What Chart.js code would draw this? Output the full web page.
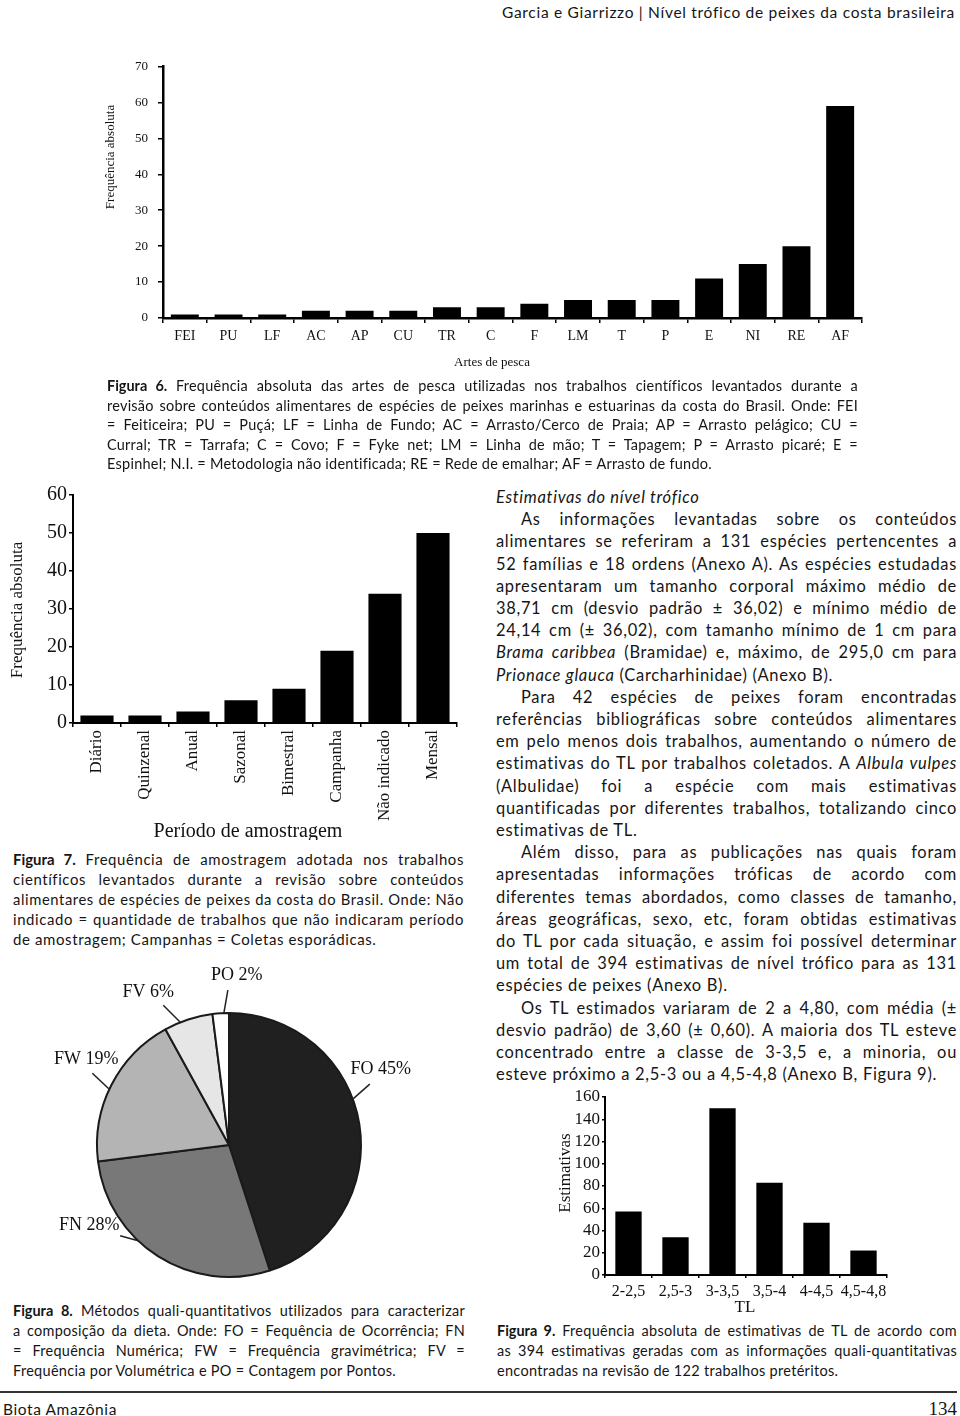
<!DOCTYPE html>
<html lang="pt-BR">
<head>
<meta charset="utf-8">
<title>Garcia e Giarrizzo - Figuras 6 a 9</title>
<script src="https://cdn.jsdelivr.net/npm/chart.js@4.4.1/dist/chart.umd.min.js"></script>
<style>
html, body { margin: 0; padding: 0; background: #fff; }
#page { position: relative; width: 960px; height: 1416px; overflow: hidden; color: #151515; font-family: Lato, 'Noto Sans', sans-serif; }
.blk { position: absolute; }
.ln { text-align: justify; text-align-last: justify; }
.ln.end { text-align: left; text-align-last: left; }
.ind { text-indent: 25px; }
canvas { position: absolute; }
b { font-weight: 700; letter-spacing: 0; }
</style>
</head>
<body>
<div id="page">

  <div class="blk" style="right:5px; top:2px; font-size:15.5px; line-height:20px; letter-spacing:0.7px;">Garcia e Giarrizzo | Nível trófico de peixes da costa brasileira</div>

  <canvas id="fig6" width="780" height="330" style="left:100px; top:50px; width:780px; height:330px;"></canvas>

  <div class="blk" style="left:107px; top:376px; width:751px; font-size:14.5px; line-height:19.5px; letter-spacing:0.25px;">
    <div class="ln"><b>Figura 6.</b> Frequência absoluta das artes de pesca utilizadas nos trabalhos científicos levantados durante a</div>
    <div class="ln">revisão sobre conteúdos alimentares de espécies de peixes marinhas e estuarinas da costa do Brasil. Onde: FEI</div>
    <div class="ln">= Feiticeira; PU = Puçá; LF = Linha de Fundo; AC = Arrasto/Cerco de Praia; AP = Arrasto pelágico; CU =</div>
    <div class="ln">Curral; TR = Tarrafa; C = Covo; F = Fyke net; LM = Linha de mão; T = Tapagem; P = Arrasto picaré; E =</div>
    <div class="ln end">Espinhel; N.I. = Metodologia não identificada; RE = Rede de emalhar; AF = Arrasto de fundo.</div>
  </div>

  <canvas id="fig7" width="470" height="360" style="left:0px; top:480px; width:470px; height:360px;"></canvas>

  <div class="blk" style="left:13px; top:849px; width:451px; font-size:15px; line-height:20px; letter-spacing:0.6px;">
    <div class="ln"><b>Figura 7.</b> Frequência de amostragem adotada nos trabalhos</div>
    <div class="ln">científicos levantados durante a revisão sobre conteúdos</div>
    <div class="ln">alimentares de espécies de peixes da costa do Brasil. Onde: Não</div>
    <div class="ln">indicado = quantidade de trabalhos que não indicaram período</div>
    <div class="ln end">de amostragem; Campanhas = Coletas esporádicas.</div>
  </div>

  <canvas id="fig8" width="470" height="320" style="left:0px; top:960px; width:470px; height:320px;"></canvas>

  <div class="blk" style="left:13px; top:1301px; width:452px; font-size:14.5px; line-height:20px; letter-spacing:0.3px;">
    <div class="ln"><b>Figura 8.</b> Métodos quali-quantitativos utilizados para caracterizar</div>
    <div class="ln">a composição da dieta. Onde: FO = Fequência de Ocorrência; FN</div>
    <div class="ln">= Frequência Numérica; FW = Frequência gravimétrica; FV =</div>
    <div class="ln end">Frequência por Volumétrica e PO = Contagem por Pontos.</div>
  </div>

  <div class="blk" style="left:496px; top:486px; width:461px; font-size:16.5px; line-height:22.2px; letter-spacing:0.7px;">
    <div class="ln end"><i>Estimativas do nível trófico</i></div>
    <div class="ln ind">As informações levantadas sobre os conteúdos</div>
    <div class="ln">alimentares se referiram a 131 espécies pertencentes a</div>
    <div class="ln">52 famílias e 18 ordens (Anexo A). As espécies estudadas</div>
    <div class="ln">apresentaram um tamanho corporal máximo médio de</div>
    <div class="ln">38,71 cm (desvio padrão ± 36,02) e mínimo médio de</div>
    <div class="ln">24,14 cm (± 36,02), com tamanho mínimo de 1 cm para</div>
    <div class="ln"><i>Brama caribbea</i> (Bramidae) e, máximo, de 295,0 cm para</div>
    <div class="ln end"><i>Prionace glauca</i> (Carcharhinidae) (Anexo B).</div>
    <div class="ln ind">Para 42 espécies de peixes foram encontradas</div>
    <div class="ln">referências bibliográficas sobre conteúdos alimentares</div>
    <div class="ln">em pelo menos dois trabalhos, aumentando o número de</div>
    <div class="ln">estimativas do TL por trabalhos coletados. A <i>Albula vulpes</i></div>
    <div class="ln">(Albulidae) foi a espécie com mais estimativas</div>
    <div class="ln">quantificadas por diferentes trabalhos, totalizando cinco</div>
    <div class="ln end">estimativas de TL.</div>
    <div class="ln ind">Além disso, para as publicações nas quais foram</div>
    <div class="ln">apresentadas informações tróficas de acordo com</div>
    <div class="ln">diferentes temas abordados, como classes de tamanho,</div>
    <div class="ln">áreas geográficas, sexo, etc, foram obtidas estimativas</div>
    <div class="ln">do TL por cada situação, e assim foi possível determinar</div>
    <div class="ln">um total de 394 estimativas de nível trófico para as 131</div>
    <div class="ln end">espécies de peixes (Anexo B).</div>
    <div class="ln ind">Os TL estimados variaram de 2 a 4,80, com média (±</div>
    <div class="ln">desvio padrão) de 3,60 (± 0,60). A maioria dos TL esteve</div>
    <div class="ln">concentrado entre a classe de 3-3,5 e, a minoria, ou</div>
    <div class="ln end">esteve próximo a 2,5-3 ou a 4,5-4,8 (Anexo B, Figura 9).</div>
  </div>

  <canvas id="fig9" width="360" height="240" style="left:540px; top:1080px; width:360px; height:240px;"></canvas>

  <div class="blk" style="left:497px; top:1321px; width:460px; font-size:14.5px; line-height:20px; letter-spacing:0.3px;">
    <div class="ln"><b>Figura 9.</b> Frequência absoluta de estimativas de TL de acordo com</div>
    <div class="ln">as 394 estimativas geradas com as informações quali-quantitativas</div>
    <div class="ln end">encontradas na revisão de 122 trabalhos pretéritos.</div>
  </div>

  <div class="blk" style="left:0px; top:1391px; width:957px; height:2px; background:#333;"></div>
  <div class="blk" style="left:3px; top:1399px; font-size:15.5px; line-height:20px; letter-spacing:0.6px;">Biota Amazônia</div>
  <div class="blk" style="right:3px; top:1398px; font-size:19px; line-height:22px; font-family:'Liberation Serif', serif;">134</div>
</div>

<script>
// Figura 6 - artes de pesca
const artesLabels = ['FEI', 'PU', 'LF', 'AC', 'AP', 'CU', 'TR', 'C', 'F', 'LM', 'T', 'P', 'E', 'NI', 'RE', 'AF'];
const artesValues = [1, 1, 1, 2, 2, 2, 3, 3, 4, 5, 5, 5, 11, 15, 20, 59];

// Figura 7 - periodo de amostragem
const periodoLabels = ['Diário', 'Quinzenal', 'Anual', 'Sazonal', 'Bimestral', 'Campanha', 'Não indicado', 'Mensal'];
const periodoValues = [2, 2, 3, 6, 9, 19, 34, 50];

// Figura 8 - metodos quali-quantitativos (%)
const metodoLabels = ['FO', 'FN', 'FW', 'FV', 'PO'];
const metodoValues = [45, 28, 19, 6, 2];

// Figura 9 - estimativas de TL
const tlLabels = ['2-2,5', '2,5-3', '3-3,5', '3,5-4', '4-4,5', '4,5-4,8'];
const tlValues = [57, 34, 150, 83, 47, 22];

const SERIF = "'Liberation Serif', 'Times New Roman', serif";

// shrink any text line that would not fit on one row
document.querySelectorAll('.ln').forEach(el => {
    const probe = document.createElement('span');
    probe.style.whiteSpace = 'nowrap';
    probe.innerHTML = el.innerHTML;
    const saved = el.innerHTML;
    el.innerHTML = '';
    el.appendChild(probe);
    const natural = probe.getBoundingClientRect().width + (el.classList.contains('ind') ? 25 : 0);
    el.innerHTML = saved;
    const avail = el.clientWidth;
    if (natural > avail - 1) {
        const fs = parseFloat(getComputedStyle(el).fontSize);
        el.style.fontSize = (fs * (avail - 2) / natural).toFixed(2) + 'px';
    }
});

// axis titles drawn at free spots of the canvas
const freeTitles = {
    id: 'freeTitles',
    afterDraw(chart, args, opts) {
        const ctx = chart.ctx;
        (opts.items || []).forEach(t => {
            ctx.save();
            ctx.translate(t.x, t.y);
            if (t.rotate) ctx.rotate(t.rotate * Math.PI / 180);
            ctx.font = t.font;
            ctx.fillStyle = '#111';
            ctx.textAlign = 'center';
            ctx.textBaseline = 'middle';
            ctx.fillText(t.text, 0, 0);
            ctx.restore();
        });
    }
};

// pie labels with short leader lines
const pieLabels = {
    id: 'pieLabels',
    afterDatasetsDraw(chart, args, opts) {
        const ctx = chart.ctx;
        const ds = chart.data.datasets[0];
        chart.getDatasetMeta(0).data.forEach((arc, i) => {
            const p = opts.items[i];
            const {x, y, startAngle, endAngle, outerRadius} = arc.getProps(['x', 'y', 'startAngle', 'endAngle', 'outerRadius'], true);
            const a = startAngle + (endAngle - startAngle) * p.at;
            const sx = x + Math.cos(a) * outerRadius;
            const sy = y + Math.sin(a) * outerRadius;
            const ex = sx + p.dx, ey = sy + p.dy;
            ctx.save();
            ctx.strokeStyle = '#222';
            ctx.lineWidth = 1.5;
            ctx.beginPath();
            ctx.moveTo(sx, sy);
            ctx.lineTo(ex, ey);
            ctx.stroke();
            ctx.font = opts.font;
            ctx.fillStyle = '#111';
            ctx.textAlign = 'center';
            ctx.textBaseline = 'middle';
            ctx.fillText(chart.data.labels[i] + ' ' + ds.data[i] + '%', ex + p.tx, ey + p.ty);
            ctx.restore();
        });
    }
};

function barChart(id, labels, values, cfg) {
    const ctx = document.getElementById(id).getContext('2d');
    return new Chart(ctx, {
        type: 'bar',
        data: {
            labels: labels,
            datasets: [{
                data: values,
                backgroundColor: '#000',
                borderWidth: 0,
                barPercentage: cfg.barPercentage,
                categoryPercentage: 1
            }]
        },
        plugins: [freeTitles],
        options: {
            responsive: false,
            maintainAspectRatio: false,
            animation: false,
            events: [],
            layout: { padding: cfg.padding },
            scales: {
                x: {
                    grid: { display: true, drawOnChartArea: false, drawTicks: true, tickLength: cfg.tickLength, color: '#000', lineWidth: 1.5, offset: true },
                    border: { display: true, color: '#000', width: cfg.axisWidth },
                    ticks: {
                        color: '#111',
                        font: { family: SERIF, size: cfg.xFont },
                        padding: cfg.xPad,
                        autoSkip: false,
                        minRotation: cfg.rotation,
                        maxRotation: cfg.rotation
                    },
                    afterFit: s => { s.height = cfg.xHeight; }
                },
                y: {
                    min: 0,
                    max: cfg.max,
                    grid: { display: true, drawOnChartArea: false, drawTicks: true, tickLength: cfg.tickLength, color: '#000', lineWidth: 1.5 },
                    border: { display: true, color: '#000', width: cfg.axisWidth },
                    ticks: {
                        stepSize: cfg.step,
                        count: cfg.max / cfg.step + 1,
                        autoSkip: false,
                        color: '#111',
                        font: { family: SERIF, size: cfg.yFont, lineHeight: 1 },
                        padding: cfg.yPad
                    },
                    afterFit: s => { s.width = cfg.yWidth; }
                }
            },
            plugins: {
                legend: { display: false },
                tooltip: { enabled: false },
                freeTitles: { items: cfg.titles }
            }
        }
    });
}

barChart('fig6', artesLabels, artesValues, {
    barPercentage: 0.64,
    padding: { top: 16, right: 18, left: 0, bottom: 0 },
    tickLength: 5, axisWidth: 2.5,
    xFont: 14, xPad: 5, rotation: 0, xHeight: 62,
    yFont: 13, yPad: 10, yWidth: 63,
    max: 70, step: 10,
    titles: [
        { text: 'Frequência absoluta', x: 11, y: 107, rotate: -90, font: '13px ' + SERIF },
        { text: 'Artes de pesca', x: 392, y: 313, font: '13px ' + SERIF }
    ]
});

barChart('fig7', periodoLabels, periodoValues, {
    barPercentage: 0.69,
    padding: { top: 15, right: 13, left: 0, bottom: 0 },
    tickLength: 4, axisWidth: 2,
    xFont: 17, xPad: 3, rotation: 90, xHeight: 117,
    yFont: 20, yPad: 2, yWidth: 73,
    max: 60, step: 10,
    titles: [
        { text: 'Frequência absoluta', x: 18, y: 130, rotate: -90, font: '17px ' + SERIF },
        { text: 'Período de amostragem', x: 248, y: 352, font: '20px ' + SERIF }
    ]
});

barChart('fig9', tlLabels, tlValues, {
    barPercentage: 0.56,
    padding: { top: 17, right: 13, left: 0, bottom: 0 },
    tickLength: 3, axisWidth: 2,
    xFont: 16, xPad: 4, rotation: 0, xHeight: 45,
    yFont: 17, yPad: 2, yWidth: 65,
    max: 160, step: 20,
    titles: [
        { text: 'Estimativas', x: 26, y: 93, rotate: -90, font: '17px ' + SERIF },
        { text: 'TL', x: 205, y: 228, font: '17px ' + SERIF }
    ]
});

// Figura 8 - pie
new Chart(document.getElementById('fig8').getContext('2d'), {
    type: 'pie',
    data: {
        labels: metodoLabels,
        datasets: [{
            data: metodoValues,
            backgroundColor: ['#202020', '#787878', '#b4b4b4', '#e6e6e6', '#ffffff'],
            borderColor: '#1a1a1a',
            borderWidth: 2
        }]
    },
    plugins: [pieLabels],
    options: {
        responsive: false,
        maintainAspectRatio: false,
        animation: false,
        events: [],
        layout: { padding: { left: 96, right: 108, top: 52, bottom: 2 } },
        plugins: {
            legend: { display: false },
            tooltip: { enabled: false },
            pieLabels: {
                font: '18px ' + SERIF,
                items: [
                    { at: 0.43, dx: 17, dy: -15, tx: 11, ty: -15 },
                    { at: 0.61, dx: -18, dy: -5, tx: -31, ty: -11 },
                    { at: 0.47, dx: -17, dy: -16, tx: -6, ty: -14 },
                    { at: 0.33, dx: -17, dy: -17, tx: -15, ty: -13 },
                    { at: 0.69, dx: 4, dy: -23, tx: 9, ty: -15 }
                ]
            }
        }
    }
});
</script>
</body>
</html>
